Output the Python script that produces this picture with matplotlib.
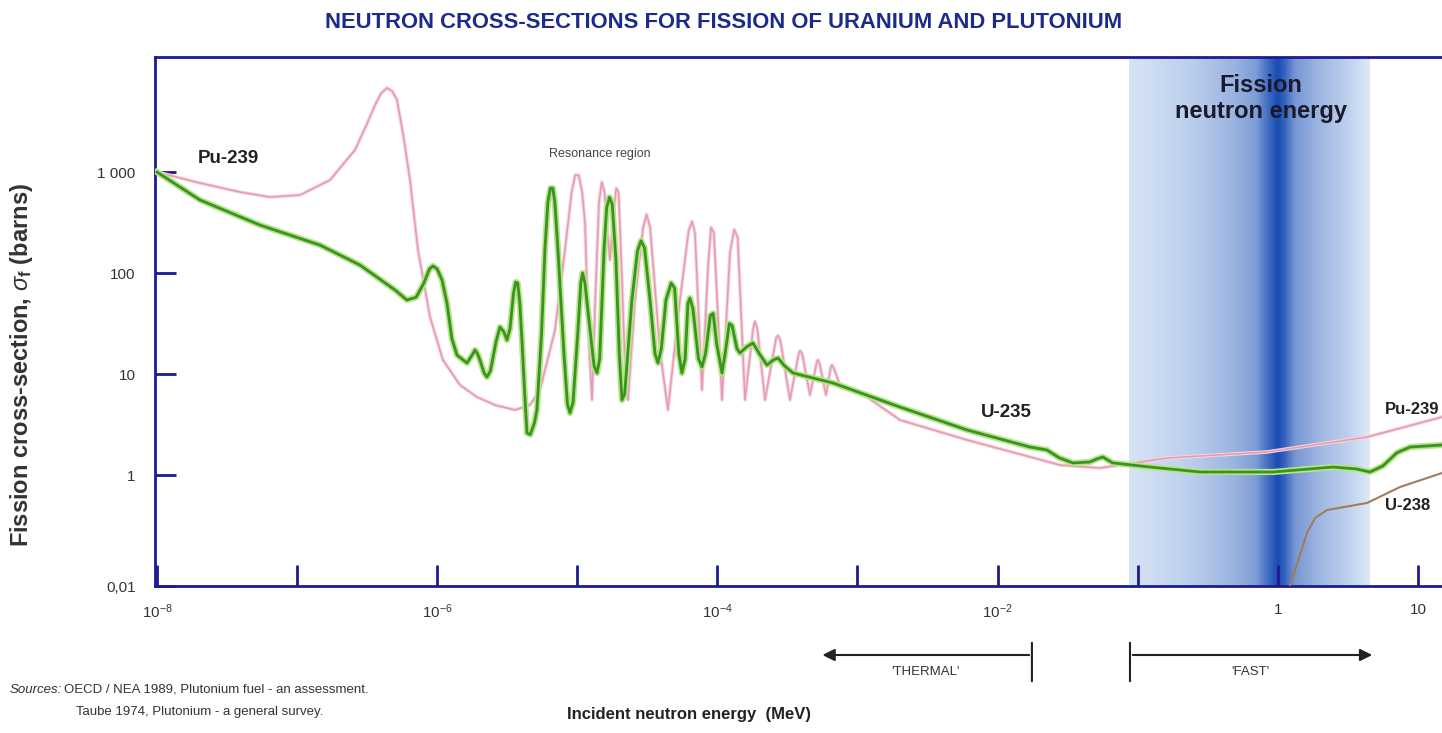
import numpy as np
import matplotlib.pyplot as plt
from matplotlib.colors import to_rgb

plt.rcParams["font.family"] = ["Liberation Sans", "DejaVu Sans"]
plt.rcParams["mathtext.fontset"] = "custom"
plt.rcParams["mathtext.rm"] = "Liberation Sans"
plt.rcParams["mathtext.it"] = "Liberation Sans:italic"
plt.rcParams["mathtext.bf"] = "Liberation Sans:bold"

# values: log10(energy / MeV) and log10(cross-section / barns)
pu239_logE = [-8.0, -7.693, -7.408, -7.193, -6.979, -6.765, -6.587, -6.500, -6.444, -6.400,
              -6.358, -6.320, -6.287, -6.240, -6.194, -6.137, -6.051, -5.959, -5.837, -5.716,
              -5.587, -5.445, -5.338, -5.266, -5.159, -5.088, -5.040, -5.015, -4.990, -4.965,
              -4.945, -4.920, -4.895, -4.870, -4.845, -4.825, -4.805, -4.785, -4.767, -4.740,
              -4.722, -4.705, -4.680, -4.655, -4.638, -4.588, -4.530, -4.505, -4.480, -4.410,
              -4.353, -4.267, -4.205, -4.181, -4.160, -4.110, -4.065, -4.045, -4.025, -3.967,
              -3.910, -3.880, -3.855, -3.803, -3.745, -3.732, -3.715, -3.660, -3.580, -3.567,
              -3.550, -3.482, -3.420, -3.410, -3.395, -3.339, -3.290, -3.282, -3.270, -3.225,
              -3.190, -3.182, -3.170, -3.125, -2.932, -2.697, -2.218, -1.555, -1.269, -0.791,
              -0.077, 0.637, 1.172]
pu239_logsig = [3.0, 2.891, 2.802, 2.752, 2.772, 2.921, 3.218, 3.48, 3.663, 3.78,
                3.832, 3.80, 3.713, 3.35, 2.921, 2.228, 1.564, 1.139, 0.891, 0.772,
                0.693, 0.644, 0.693, 0.842, 1.436, 2.228, 2.80, 2.97, 2.97, 2.80,
                2.50, 1.40, 0.743, 1.80, 2.70, 2.90, 2.80, 2.40, 2.129, 2.60,
                2.84, 2.80, 1.90, 0.90, 0.743, 1.733, 2.45, 2.58, 2.45, 1.238,
                0.644, 1.733, 2.42, 2.51, 2.40, 0.842, 2.10, 2.45, 2.40, 0.743,
                2.20, 2.43, 2.35, 0.743, 1.45, 1.52, 1.45, 0.743, 1.36, 1.38,
                1.33, 0.743, 1.20, 1.23, 1.20, 0.792, 1.12, 1.139, 1.10, 0.792,
                1.07, 1.089, 1.06, 0.891, 0.772, 0.545, 0.347, 0.099, 0.069, 0.168,
                0.228, 0.376, 0.574]

u235_logE = [-8.0, -7.693, -7.265, -6.837, -6.551, -6.301, -6.216, -6.150, -6.095, -6.055,
             -6.030, -6.000, -5.965, -5.930, -5.895, -5.859, -5.787, -5.745, -5.730, -5.712,
             -5.695, -5.665, -5.645, -5.620, -5.580, -5.552, -5.525, -5.502, -5.480, -5.455,
             -5.440, -5.425, -5.410, -5.395, -5.375, -5.359, -5.335, -5.305, -5.288, -5.255,
             -5.231, -5.210, -5.192, -5.175, -5.160, -5.138, -5.095, -5.070, -5.052, -5.030,
             -4.995, -4.975, -4.962, -4.945, -4.909, -4.880, -4.859, -4.840, -4.809, -4.790,
             -4.770, -4.750, -4.724, -4.700, -4.681, -4.662, -4.610, -4.570, -4.545, -4.520,
             -4.481, -4.445, -4.424, -4.400, -4.367, -4.330, -4.305, -4.275, -4.253, -4.230,
             -4.210, -4.196, -4.175, -4.135, -4.110, -4.085, -4.050, -4.030, -4.005, -3.967,
             -3.945, -3.915, -3.895, -3.860, -3.839, -3.790, -3.746, -3.700, -3.646, -3.600,
             -3.567, -3.520, -3.460, -3.175, -2.697, -2.218, -1.769, -1.648, -1.560, -1.462,
             -1.390, -1.341, -1.290, -1.248, -1.180, -0.912, -0.555, -0.034, 0.394, 0.560,
             0.658, 0.750, 0.850, 0.944, 1.172]
u235_logsig = [3.0, 2.723, 2.475, 2.277, 2.079, 1.832, 1.733, 1.76, 1.90, 2.04,
               2.07, 2.04, 1.93, 1.70, 1.35, 1.188, 1.109, 1.20, 1.238, 1.20,
               1.139, 1.01, 0.970, 1.03, 1.32, 1.465, 1.42, 1.337, 1.45, 1.80,
               1.91, 1.90, 1.70, 1.337, 0.80, 0.416, 0.40, 0.52, 0.644, 1.40,
               2.228, 2.70, 2.84, 2.84, 2.70, 2.228, 1.20, 0.70, 0.614, 0.72,
               1.436, 1.90, 2.0, 1.90, 1.436, 1.08, 1.010, 1.15, 2.228, 2.65,
               2.75, 2.68, 2.129, 1.20, 0.743, 0.80, 1.733, 2.22, 2.32, 2.25,
               1.733, 1.20, 1.109, 1.25, 1.733, 1.90, 1.85, 1.20, 1.010, 1.15,
               1.70, 1.752, 1.65, 1.15, 1.069, 1.20, 1.58, 1.60, 1.30, 1.010,
               1.20, 1.50, 1.48, 1.25, 1.208, 1.27, 1.307, 1.20, 1.089, 1.14,
               1.158, 1.08, 1.010, 0.911, 0.673, 0.446, 0.277, 0.248, 0.17, 0.119,
               0.125, 0.129, 0.16, 0.178, 0.12, 0.079, 0.030, 0.030, 0.079, 0.06,
               0.030, 0.09, 0.22, 0.277, 0.297]

u238_logE = [0.087, 0.158, 0.208, 0.266, 0.351, 0.637, 0.872, 1.172]
u238_logsig = [-1.099, -0.792, -0.574, -0.426, -0.347, -0.277, -0.119, 0.020]

ytick_vals = [10 ** -1.099, 1, 10, 100, 1000]
ytick_labels = ["0,01", "1", "10", "100", "1 000"]
xtick_vals = [1e-8, 1e-7, 1e-6, 1e-5, 1e-4, 1e-3, 1e-2, 1e-1, 1, 10]
xtick_labels = ["$10^{-8}$", "", "$10^{-6}$", "", "$10^{-4}$", "", "$10^{-2}$", "", "1", "10"]

navy = "#1c1c8f"

fig = plt.figure(figsize=(14.42, 7.33), dpi=100)
ax = fig.add_axes([155 / 1442, 147 / 733, 1287 / 1442, 529 / 733])
ax.set_xscale("log")
ax.set_yscale("log")
ax.set_xlim(10 ** -8.014, 10 ** 1.172)
ax.set_ylim(10 ** -1.099, 10 ** 4.139)

# fission neutron energy band (shaded gradient)
light = np.array(to_rgb("#e6f0fb"))
dark = np.array(to_rgb("#1a4db3"))
prof_x = [-1.06, -0.9, -0.6, -0.3, -0.15, -0.07, 0.0, 0.05, 0.12, 0.3, 0.5, 0.66]
prof_t = [0.08, 0.12, 0.22, 0.38, 0.52, 0.8, 1.0, 0.85, 0.55, 0.35, 0.2, 0.04]
edges = np.linspace(-1.06, 0.66, 240)
for a, b in zip(edges[:-1], edges[1:]):
    t = np.interp((a + b) / 2, prof_x, prof_t)
    ax.axvspan(10 ** a, 10 ** b, color=light + (dark - light) * t, lw=0, zorder=0)

pu_x, pu_y = 10 ** np.array(pu239_logE), 10 ** np.array(pu239_logsig)
u5_x, u5_y = 10 ** np.array(u235_logE), 10 ** np.array(u235_logsig)
ax.plot(pu_x, pu_y, color="#f7d3dc", lw=2.6, zorder=2, solid_joinstyle="round")
ax.plot(pu_x, pu_y, color="#e59bb0", lw=1.1, zorder=2, solid_joinstyle="round")
ax.plot(u5_x, u5_y, color="#b6e489", lw=4.5, zorder=3, solid_joinstyle="round")
ax.plot(u5_x, u5_y, color="#3a9220", lw=2.0, zorder=3, solid_joinstyle="round")
ax.plot(10 ** np.array(u238_logE), 10 ** np.array(u238_logsig), color="#a47a5c", lw=1.5, zorder=3)

ax.set_yticks(ytick_vals)
ax.set_yticklabels(ytick_labels)
ax.set_xticks(xtick_vals)
ax.set_xticklabels(xtick_labels)
ax.minorticks_off()
ax.tick_params(axis="both", direction="in", length=15, width=2, color=navy,
               labelsize=11, labelcolor="#333333")
ax.tick_params(axis="y", pad=14)
ax.tick_params(axis="x", pad=12)

for side in ["left", "top", "bottom"]:
    ax.spines[side].set_color(navy)
    ax.spines[side].set_linewidth(2)
ax.spines["right"].set_visible(False)

lab = dict(fontweight="bold", color="#222222", va="center")
ax.text(10 ** -7.71, 10 ** 3.13, "Pu-239", fontsize=13.5, **lab)
ax.text(10 ** -2.12, 10 ** 0.62, "U-235", fontsize=13.5, **lab)
ax.text(10 ** 0.765, 10 ** 0.644, "Pu-239", fontsize=12, clip_on=False, **lab)
ax.text(10 ** 0.765, 10 ** -0.297, "U-238", fontsize=12, clip_on=False, **lab)
ax.text(10 ** -5.2, 10 ** 3.15, "Resonance region", fontsize=9, color="#444444")
ax.text(10 ** -0.12, 10 ** 3.86, "Fission", fontsize=17, fontweight="bold",
        color="#1a1a2a", ha="center", va="center")
ax.text(10 ** -0.12, 10 ** 3.60, "neutron energy", fontsize=17, fontweight="bold",
        color="#1a1a2a", ha="center", va="center")

fig.text(0.502, 1 - 22 / 733, "NEUTRON CROSS-SECTIONS FOR FISSION OF URANIUM AND PLUTONIUM",
         ha="center", va="center", fontsize=15.8, fontweight="bold", color="#1c2a8c")
fig.text(22 / 1442, 1 - 365 / 733, "Fission cross-section, $\\sigma_\\mathbf{f}$ (barns)",
         rotation=90, ha="center", va="center", fontsize=17, fontweight="bold", color="#333333")
fig.text(567 / 1442, 1 - 715 / 733, "Incident neutron energy  (MeV)", ha="left", va="center",
         fontsize=12, fontweight="bold", color="#222222")

# thermal / fast arrows below the axis
arr_y = 1 - 655 / 733
ax.annotate("", xy=(10 ** -3.27, arr_y), xytext=(10 ** -1.755, arr_y),
            xycoords=("data", "figure fraction"),
            arrowprops=dict(arrowstyle="-|>", color="#222222", lw=1.5, mutation_scale=18))
ax.annotate("", xy=(10 ** 0.694, arr_y), xytext=(10 ** -1.055, arr_y),
            xycoords=("data", "figure fraction"),
            arrowprops=dict(arrowstyle="-|>", color="#222222", lw=1.5, mutation_scale=18))
for xv in [10 ** -1.755, 10 ** -1.055]:
    ax.annotate("", xy=(xv, 1 - 640 / 733), xytext=(xv, 1 - 684 / 733),
                xycoords=("data", "figure fraction"),
                arrowprops=dict(arrowstyle="-", color="#222222", lw=1.5))
fig.text(925 / 1442, 1 - 672 / 733, "'THERMAL'", ha="center", va="center", fontsize=9.5, color="#333333")
fig.text(1250 / 1442, 1 - 672 / 733, "'FAST'", ha="center", va="center", fontsize=9.5, color="#333333")

fig.text(10 / 1442, 1 - 690 / 733, "Sources:", fontsize=9.5, style="italic", color="#333333", va="center")
fig.text(64 / 1442, 1 - 690 / 733, "OECD / NEA 1989, Plutonium fuel - an assessment.",
         fontsize=9.5, color="#333333", va="center")
fig.text(76 / 1442, 1 - 712 / 733, "Taube 1974, Plutonium - a general survey.",
         fontsize=9.5, color="#333333", va="center")

fig.savefig("out.png", dpi=100)
